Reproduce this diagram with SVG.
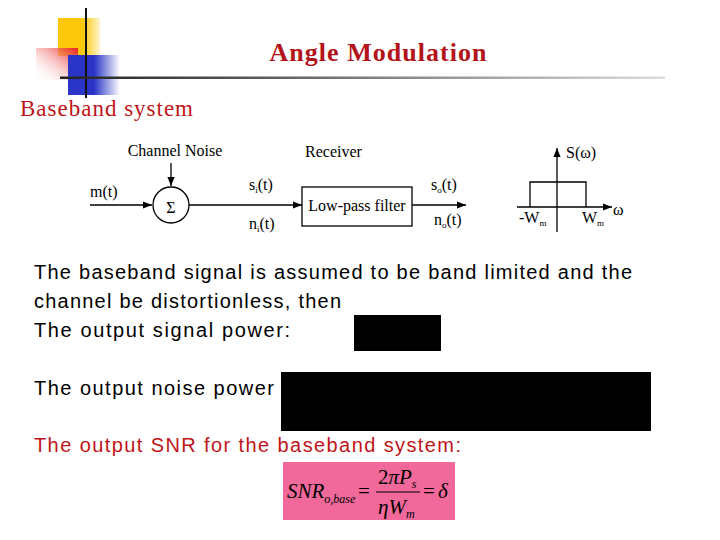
<svg xmlns="http://www.w3.org/2000/svg" width="720" height="540" viewBox="0 0 720 540">
<defs>
<linearGradient id="hl" x1="0" x2="1"><stop offset="0" stop-color="#222"/><stop offset="0.3" stop-color="#555"/><stop offset="1" stop-color="#ddd"/></linearGradient>
<linearGradient id="red" x1="1" y1="0" x2="0" y2="1"><stop offset="0" stop-color="#e82020"/><stop offset="1" stop-color="#fff" stop-opacity="0"/></linearGradient>
<linearGradient id="blu" x1="0" x2="1"><stop offset="0.5" stop-color="#2a35c8"/><stop offset="1" stop-color="#2a35c8" stop-opacity="0"/></linearGradient>
<linearGradient id="yel" x1="0" x2="1"><stop offset="0.6" stop-color="#fdc80a"/><stop offset="1" stop-color="#fdc80a" stop-opacity="0.2"/></linearGradient>
<marker id="ar" viewBox="0 0 10 10" refX="10" refY="5" markerWidth="7" markerHeight="7" orient="auto"><path d="M0,1 L10,5 L0,9 z" fill="#000"/></marker>
<style>
.d{font-family:"Liberation Serif",serif;font-size:16px;fill:#000}
.b{font-family:"Liberation Sans",sans-serif;font-size:20px;fill:#000}
.l{stroke:#000;stroke-width:1.3;fill:none}
</style>
</defs>
<rect width="720" height="540" fill="#fff"/>
<g id="logo">
<rect x="58" y="18" width="42" height="38" fill="url(#yel)"/>
<rect x="36" y="48" width="42" height="32" fill="url(#red)"/>
<rect x="68" y="55" width="52" height="40" fill="url(#blu)"/>
<line x1="86" y1="8" x2="86" y2="98" stroke="#111" stroke-width="2"/>
<rect x="60" y="76.5" width="605" height="2.5" fill="url(#hl)"/>
</g>
<text x="378" y="61" text-anchor="middle" font-family="Liberation Serif,serif" font-size="26" font-weight="bold" fill="#b3141a" textLength="217">Angle Modulation</text>
<text x="20" y="116" font-family="Liberation Serif,serif" font-size="23" fill="#c0141a" textLength="173">Baseband system</text>
<g id="connectors">
<line class="l" x1="90" y1="205" x2="152" y2="205" marker-end="url(#ar)"/>
<line class="l" x1="171" y1="163" x2="171" y2="186" marker-end="url(#ar)"/>
<line class="l" x1="189" y1="205" x2="302" y2="205" marker-end="url(#ar)"/>
<line class="l" x1="412" y1="205" x2="466" y2="205" marker-end="url(#ar)"/>
</g>
<g id="sum"><circle class="l" cx="171" cy="205" r="18"/><text class="d" x="171" y="213" text-anchor="middle" font-size="22">Σ</text></g>
<g id="lpf"><rect class="l" x="302" y="187" width="110" height="39"/><text class="d" x="357" y="211" text-anchor="middle">Low-pass filter</text></g>
<g id="labels">
<text class="d" x="90" y="197">m(t)</text>
<text class="d" x="175" y="156" text-anchor="middle">Channel Noise</text>
<text class="d" x="305" y="157">Receiver</text>
<text class="d" x="249" y="190">s<tspan font-size="9" dy="3">i</tspan><tspan dy="-3">(t)</tspan></text>
<text class="d" x="249" y="229">n<tspan font-size="9" dy="3">i</tspan><tspan dy="-3">(t)</tspan></text>
<text class="d" x="431" y="190">s<tspan font-size="9" dy="3">o</tspan><tspan dy="-3">(t)</tspan></text>
<text class="d" x="434" y="225">n<tspan font-size="9" dy="3">o</tspan><tspan dy="-3">(t)</tspan></text>
</g>
<g id="spectrum">
<line class="l" x1="517" y1="207" x2="612" y2="207" marker-end="url(#ar)"/>
<line class="l" x1="557" y1="232" x2="557" y2="148" marker-end="url(#ar)"/>
<polyline class="l" stroke="#555" points="530,207 530,182 586,182 586,207"/>
<text class="d" x="566" y="158">S(ω)</text>
<text class="d" x="613" y="215" font-size="14">ω</text>
<text class="d" x="519" y="223">-W<tspan font-size="9" dy="3">m</tspan></text>
<text class="d" x="582" y="223">W<tspan font-size="9" dy="3">m</tspan></text>
</g>
<text class="b" x="34" y="279" textLength="598">The baseband signal is assumed to be band limited and the</text>
<text class="b" x="34" y="308" textLength="307">channel be distortionless, then</text>
<text class="b" x="34" y="337" textLength="256">The output signal power:</text>
<rect x="354" y="315" width="87" height="36" fill="#000"/>
<text class="b" x="34" y="395" textLength="240">The output noise power</text>
<rect x="281" y="372" width="370" height="59" fill="#000"/>
<text class="b" x="34" y="452" style="fill:#c0141a" textLength="427">The output SNR for the baseband system:</text>
<g id="formula">
<rect x="283" y="462" width="172" height="58" fill="#f0699a"/>
<text x="287" y="498" font-family="Liberation Serif,serif" font-style="italic" font-size="21">SNR<tspan font-size="12" dy="5">o,base</tspan></text>
<text x="358" y="498" font-family="Liberation Serif,serif" font-size="21">=</text>
<text x="378" y="484" font-family="Liberation Serif,serif" font-size="21">2<tspan font-style="italic">πP</tspan><tspan font-size="12" font-style="italic" dy="4">s</tspan></text>
<line x1="376" y1="492" x2="420" y2="492" stroke="#000" stroke-width="1"/>
<text x="378" y="514" font-family="Liberation Serif,serif" font-style="italic" font-size="21">ηW<tspan font-size="12" dy="4">m</tspan></text>
<text x="423" y="498" font-family="Liberation Serif,serif" font-size="21">=</text>
<text x="438" y="498" font-family="Liberation Serif,serif" font-style="italic" font-size="21">δ</text>
</g>
</svg>
